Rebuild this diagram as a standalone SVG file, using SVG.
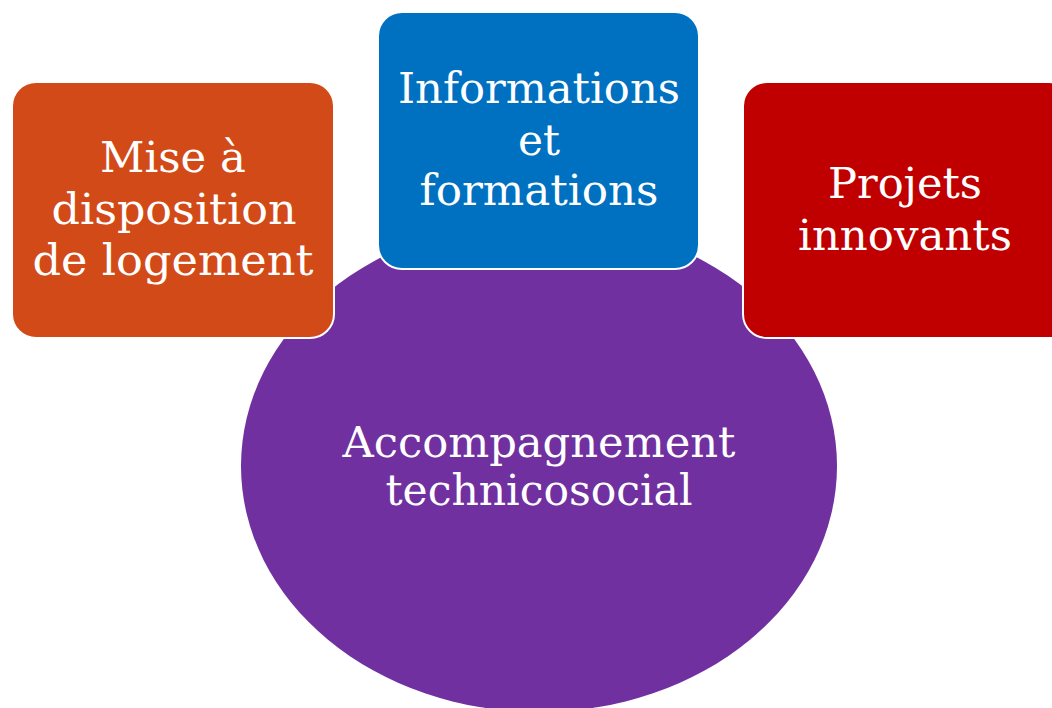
<svg xmlns="http://www.w3.org/2000/svg" width="1052" height="708" viewBox="0 0 1052 708">
<style>
.lbl{font-family:"DejaVu Serif","Liberation Serif",serif;font-size:42px;fill:#fff;text-anchor:middle}
.box{stroke:#fff;stroke-width:2}
</style>
<rect width="1052" height="708" fill="#fff"/>
<g id="center">
<ellipse cx="539" cy="466" rx="298" ry="246" fill="#7030A0"/>
<text class="lbl" x="539" y="457" textLength="393" lengthAdjust="spacingAndGlyphs">Accompagnement</text>
<text class="lbl" x="539" y="505" textLength="307" lengthAdjust="spacingAndGlyphs">technicosocial</text>
</g>
<g id="connectors"></g>
<g id="logement">
<rect class="box" x="12" y="82" width="322" height="256" rx="24" fill="#D24A17"/>
<text class="lbl" x="173" y="172" textLength="146" lengthAdjust="spacingAndGlyphs">Mise à</text>
<text class="lbl" x="174" y="224" textLength="245" lengthAdjust="spacingAndGlyphs">disposition</text>
<text class="lbl" x="173" y="275" textLength="281" lengthAdjust="spacingAndGlyphs">de logement</text>
</g>
<g id="informations">
<rect class="box" x="378" y="12" width="321" height="257" rx="24" fill="#0070C0"/>
<text class="lbl" x="539" y="103" textLength="282" lengthAdjust="spacingAndGlyphs">Informations</text>
<text class="lbl" x="539" y="155" textLength="42" lengthAdjust="spacingAndGlyphs">et</text>
<text class="lbl" x="539" y="205" textLength="239" lengthAdjust="spacingAndGlyphs">formations</text>
</g>
<g id="projets">
<rect class="box" x="743" y="82" width="330" height="256" rx="24" fill="#C00000"/>
<text class="lbl" x="905" y="198" textLength="154" lengthAdjust="spacingAndGlyphs">Projets</text>
<text class="lbl" x="905" y="250" textLength="214" lengthAdjust="spacingAndGlyphs">innovants</text>
</g>
</svg>
